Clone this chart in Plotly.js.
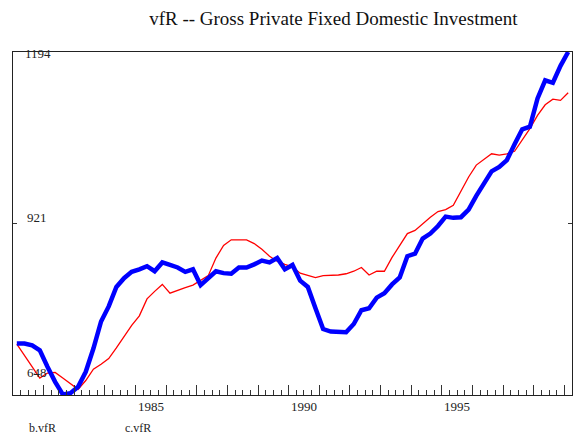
<!DOCTYPE html>
<html>
<head>
<meta charset="utf-8">
<script src="https://cdn.plot.ly/plotly-3.0.1.min.js"></script>
<style>
html,body{margin:0;padding:0;background:#fff;}
#chart{width:576px;height:438px;}
</style>
</head>
<body>
<div id="chart"></div>
<script>
// Quarterly series, 1981Q1 .. 1999Q1
var startYear = 1981;
var seriesNames = ['b.vfR', 'c.vfR'];
var bVfR = [730,730,727,719,693,669,649,651,661,685,
            722,765,789,820,834,844,848,853,845,859,
            855,851,844,848,823,833,845,842,841,851,
            851,856,862,859,866,848,855,830,820,786,
            753,749,749,748,761,783,786,803,810,824,
            835,869,873,897,905,917,932,930,931,943,
            965,986,1004,1011,1022,1047,1071,1075,1120,1149,
            1145,1172,1194];
var cVfR = [729,711,693,675,683,684,675,666,657,671,
            689,697,706,723,742,759,774,801,813,824,
            810,815,819,823,831,838,866,886,895,895,
            895,889,880,869,861,856,852,842,838,835,
            838,838,839,841,845,851,839,845,845,867,
            885,905,910,921,931,940,943,950,972,995,
            1014,1023,1032,1030,1032,1036,1054,1072,1093,1110,
            1119,1117,1129];
var yTicks = [648, 921, 1194];
var yearLabels = [1985, 1990, 1995];
var titleText = 'vfR -- Gross Private Fixed Domestic Investment';

// x position of each quarter: middle of the quarter
var quarterX = bVfR.map(function(_, i){ return startYear + (i + 0.5) / 4; });
var yearTicks = [];
for (var y = startYear; y <= 1999; y++) yearTicks.push(y);

var serif = 'Liberation Serif, Times New Roman, serif';

var traces = [
  {x: quarterX, y: cVfR, name: seriesNames[1], type: 'scatter', mode: 'lines',
   line: {color: '#ff0000', width: 1.3}},
  {x: quarterX, y: bVfR, name: seriesNames[0], type: 'scatter', mode: 'lines',
   line: {color: '#0000ff', width: 4.5}}
];

var annotations = [];
// y tick labels (drawn inside the plot)
var yShift = [ -1, 6, 22.5 ];
var yXShift = [ 12, 14, 14 ];
[1194, 921, 648].forEach(function(v, k){
  annotations.push({xref: 'paper', yref: 'y', x: 0, y: v, text: String(v),
    showarrow: false, xanchor: 'left', yanchor: 'middle',
    xshift: yXShift[k] - 2, yshift: yShift[k],
    font: {family: serif, size: 13, color: '#222'}});
});
// year labels centered inside the year
yearLabels.forEach(function(yr){
  annotations.push({xref: 'x', yref: 'paper', x: yr + 0.5, y: 0, text: String(yr),
    showarrow: false, xanchor: 'center', yanchor: 'middle', yshift: -11,
    font: {family: serif, size: 13, color: '#222'}});
});
// legend texts
var legendPx = [27, 123];
seriesNames.forEach(function(nm, k){
  annotations.push({xref: 'paper', yref: 'paper', x: 0, y: 0, text: nm,
    showarrow: false, xanchor: 'left', yanchor: 'middle',
    xshift: legendPx[k] - 13, yshift: -32.5,
    font: {family: serif, size: 12, color: '#222'}});
});

var layout = {
  width: 576, height: 438,
  margin: {l: 13, r: 4, t: 52, b: 43, pad: 0},
  paper_bgcolor: '#fff', plot_bgcolor: '#fff',
  showlegend: false,
  title: {text: titleText, x: 0.573, xref: 'paper', xanchor: 'center',
          y: 0.958, yref: 'container', yanchor: 'middle',
          font: {family: serif, size: 19, color: '#111'}},
  xaxis: {range: [1981, 1999.25], showgrid: false, zeroline: false,
          showline: true, linecolor: '#222', linewidth: 1, mirror: true,
          tickmode: 'array', tickvals: yearTicks, showticklabels: false,
          ticks: 'inside', ticklen: 10, tickwidth: 1, tickcolor: '#333',
          minor: {dtick: 0.25, tick0: 1981, ticks: 'inside', ticklen: 5, tickwidth: 1, tickcolor: '#333', showgrid: false}},
  yaxis: {range: [648, 1194], showgrid: false, zeroline: false,
          showline: true, linecolor: '#222', linewidth: 1, mirror: 'ticks',
          tickmode: 'array', tickvals: yTicks, showticklabels: false,
          ticks: 'inside', ticklen: 4, tickwidth: 1, tickcolor: '#333'},
  annotations: annotations
};

Plotly.newPlot('chart', traces, layout, {staticPlot: true, displayModeBar: false});
</script>
</body>
</html>
